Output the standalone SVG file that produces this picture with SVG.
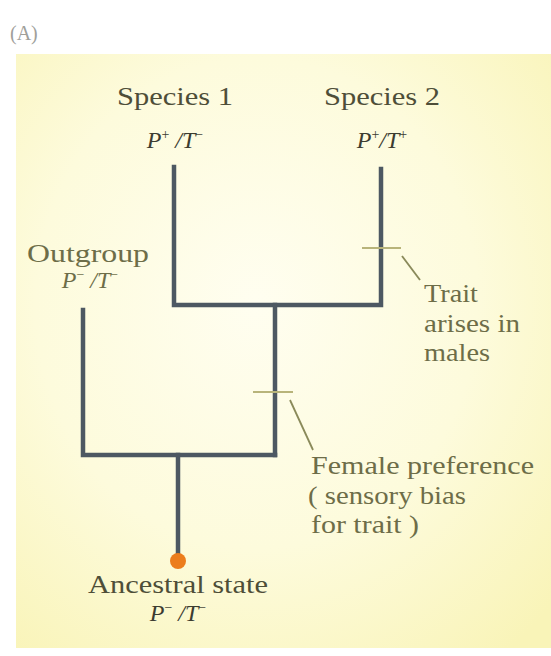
<svg xmlns="http://www.w3.org/2000/svg" width="551" height="656" viewBox="0 0 551 656">
  <defs>
    <radialGradient id="bg" cx="0.45" cy="0.42" r="0.75">
      <stop offset="0" stop-color="#fffef0"/>
      <stop offset="0.55" stop-color="#fdfbdc"/>
      <stop offset="1" stop-color="#f9f4b8"/>
    </radialGradient>
    <style>
      .branch { fill: none; stroke: #4d5862; stroke-width: 4.5; stroke-linecap: square; stroke-linejoin: miter; }
      .tick { fill: none; stroke: #b8b47a; stroke-width: 2; }
      .leader { fill: none; stroke: #8a8a5a; stroke-width: 1.8; }
      .lbl { font-family: "Liberation Serif", "Times New Roman", serif; font-size: 25px; fill: #4e4e38; }
      .note { font-family: "Liberation Serif", "Times New Roman", serif; font-size: 25px; fill: #6d6d48; }
      .geno { font-family: "Liberation Serif", "Times New Roman", serif; font-size: 24px; font-style: italic; fill: #3c3c30; }
      .sup { font-size: 14px; font-style: normal; }
      .panel { font-family: "Liberation Serif", "Times New Roman", serif; font-size: 20px; fill: #a0a09a; }
    </style>
  </defs>
  <rect x="0" y="0" width="551" height="656" fill="#ffffff"/>
  <rect x="16" y="54" width="535" height="594" fill="url(#bg)"/>

  <text class="panel" x="10" y="40">(A)</text>

  <g id="connectors">
    <polyline class="branch" points="174,167 174,305 381,305 381,169"/>
    <line class="branch" x1="275" y1="305" x2="275" y2="455"/>
    <polyline class="branch" points="83,310 83,455 275,455"/>
    <line class="branch" x1="178" y1="455" x2="178" y2="556"/>
    <line class="tick" x1="362" y1="248" x2="401" y2="248"/>
    <line class="tick" x1="253" y1="392" x2="293" y2="392"/>
    <line class="leader" x1="402" y1="256" x2="420" y2="280"/>
    <line class="leader" x1="290" y1="400" x2="313" y2="450"/>
  </g>

  <g id="species1">
    <text class="lbl" x="175" y="105" text-anchor="middle" textLength="116" lengthAdjust="spacingAndGlyphs">Species 1</text>
    <text class="geno" x="175" y="148" text-anchor="middle">P<tspan class="sup" dy="-9">+</tspan><tspan dy="9"> /T</tspan><tspan class="sup" dy="-9">−</tspan></text>
  </g>

  <g id="species2">
    <text class="lbl" x="382" y="105" text-anchor="middle" textLength="116" lengthAdjust="spacingAndGlyphs">Species 2</text>
    <text class="geno" x="382" y="148" text-anchor="middle">P<tspan class="sup" dy="-9">+</tspan><tspan dy="9">/T</tspan><tspan class="sup" dy="-9">+</tspan></text>
  </g>

  <g id="outgroup">
    <text class="note" x="88" y="262" text-anchor="middle" textLength="122" lengthAdjust="spacingAndGlyphs">Outgroup</text>
    <text class="geno" x="90" y="288" text-anchor="middle" style="fill:#6d6d48">P<tspan class="sup" dy="-9">−</tspan><tspan dy="9"> /T</tspan><tspan class="sup" dy="-9">−</tspan></text>
  </g>

  <g id="trait-arises">
    <text class="note" x="424" y="302" textLength="54" lengthAdjust="spacingAndGlyphs">Trait</text>
    <text class="note" x="424" y="332" textLength="96" lengthAdjust="spacingAndGlyphs">arises in</text>
    <text class="note" x="424" y="361" textLength="66" lengthAdjust="spacingAndGlyphs">males</text>
  </g>

  <g id="female-preference">
    <text class="note" x="311" y="474" textLength="223" lengthAdjust="spacingAndGlyphs">Female preference</text>
    <text class="note" x="308" y="504" textLength="158" lengthAdjust="spacingAndGlyphs">( sensory bias</text>
    <text class="note" x="311" y="533" textLength="108" lengthAdjust="spacingAndGlyphs">for trait )</text>
  </g>

  <g id="ancestral">
    <circle cx="178" cy="561" r="8" fill="#ec7d1c"/>
    <text class="lbl" x="178" y="593" text-anchor="middle" textLength="180" lengthAdjust="spacingAndGlyphs">Ancestral state</text>
    <text class="geno" x="178" y="621" text-anchor="middle">P<tspan class="sup" dy="-9">−</tspan><tspan dy="9"> /T</tspan><tspan class="sup" dy="-9">−</tspan></text>
  </g>
</svg>
